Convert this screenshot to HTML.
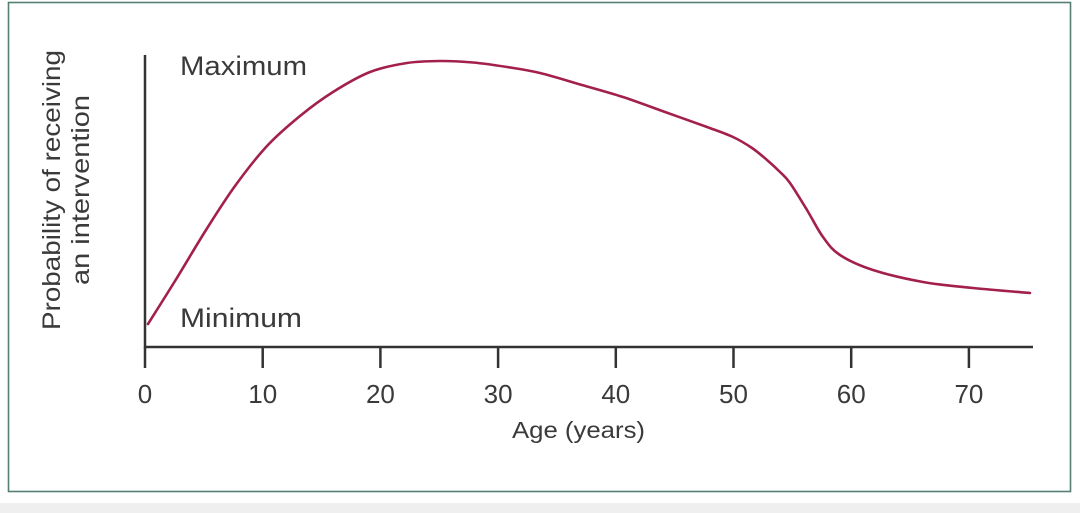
<!DOCTYPE html>
<html>
<head>
<meta charset="utf-8">
<style>
  html,body{margin:0;padding:0;background:#ffffff;}
  body{width:1080px;height:513px;overflow:hidden;position:relative;}
  svg{position:absolute;left:0;top:0;}
  text{font-family:"Liberation Sans",sans-serif;fill:#3a3a3a;}
</style>
</head>
<body>
<svg width="1080" height="513" viewBox="0 0 1080 513" xmlns="http://www.w3.org/2000/svg">
  <rect x="0" y="0" width="1080" height="513" fill="#ffffff"/>
  <rect x="0" y="503" width="1080" height="10" fill="#efefef"/>
  <rect x="8.5" y="2.5" width="1062" height="489" fill="none" stroke="#557f74" stroke-width="1.6"/>

  <!-- Y axis label -->
  <text transform="translate(60,190) rotate(-90)" text-anchor="middle" font-size="25" textLength="280" lengthAdjust="spacingAndGlyphs">Probability of receiving</text>
  <text transform="translate(89,190) rotate(-90)" text-anchor="middle" font-size="25" textLength="190" lengthAdjust="spacingAndGlyphs">an intervention</text>

  <!-- axes -->
  <line x1="145" y1="55" x2="145" y2="348" stroke="#333" stroke-width="2.5"/>
  <line x1="144" y1="347" x2="1033" y2="347" stroke="#333" stroke-width="2.5"/>
  <g stroke="#333" stroke-width="2.5">
    <line x1="145" y1="347" x2="145" y2="368"/>
    <line x1="262.7" y1="347" x2="262.7" y2="368"/>
    <line x1="380.4" y1="347" x2="380.4" y2="368"/>
    <line x1="498.1" y1="347" x2="498.1" y2="368"/>
    <line x1="615.8" y1="347" x2="615.8" y2="368"/>
    <line x1="733.5" y1="347" x2="733.5" y2="368"/>
    <line x1="851.2" y1="347" x2="851.2" y2="368"/>
    <line x1="968.9" y1="347" x2="968.9" y2="368"/>
  </g>

  <!-- tick labels -->
  <g font-size="26" text-anchor="middle">
    <text x="145" y="403">0</text>
    <text x="262.7" y="403">10</text>
    <text x="380.4" y="403">20</text>
    <text x="498.1" y="403">30</text>
    <text x="615.8" y="403">40</text>
    <text x="733.5" y="403">50</text>
    <text x="851.2" y="403">60</text>
    <text x="968.9" y="403">70</text>
  </g>

  <text x="512" y="438" font-size="23" textLength="133" lengthAdjust="spacingAndGlyphs">Age (years)</text>

  <text x="180" y="75" font-size="27" textLength="127" lengthAdjust="spacingAndGlyphs">Maximum</text>
  <text x="180" y="327" font-size="27" textLength="122" lengthAdjust="spacingAndGlyphs">Minimum</text>

  <!-- curve -->
  <path id="curve" fill="none" stroke="#a3204c" stroke-width="2.6" stroke-linejoin="round" stroke-linecap="round"
    d="M148,324 L175,281 L206,230 L235,186 L267,146 L300,116 L333,92 L370,72 L407,63 L440,61 L473,63 L507,67 L540,73 L623,97 L707,127 L737,138 L767,160 L790,183 L807,210 L823,237 L840,255 L873,270 L923,282 L973,288 L1030,293"/>
</svg>
<script>
(function(){
  var p=[[148,324],[175,281],[206,230],[235,186],[267,146],[300,116],[333,92],[370,72],[407,63],[440,61],[473,62.5],[507,67],[540,73],[582,85],[623,97],[665,112],[707,127],[733,137],[752,148],[767,160],[780,172],[790,183],[807,210],[823,237],[840,255],[873,270],[923,282],[973,288],[1030,293]];
  var d="M"+p[0][0]+","+p[0][1];
  for(var i=0;i<p.length-1;i++){
    var p0=p[i>0?i-1:i],p1=p[i],p2=p[i+1],p3=p[i+2<p.length?i+2:i+1];
    var c1x=p1[0]+(p2[0]-p0[0])/6,c1y=p1[1]+(p2[1]-p0[1])/6;
    var c2x=p2[0]-(p3[0]-p1[0])/6,c2y=p2[1]-(p3[1]-p1[1])/6;
    d+=" C"+c1x.toFixed(2)+","+c1y.toFixed(2)+" "+c2x.toFixed(2)+","+c2y.toFixed(2)+" "+p2[0]+","+p2[1];
  }
  document.getElementById("curve").setAttribute("d",d);
})();
</script>
</body>
</html>
